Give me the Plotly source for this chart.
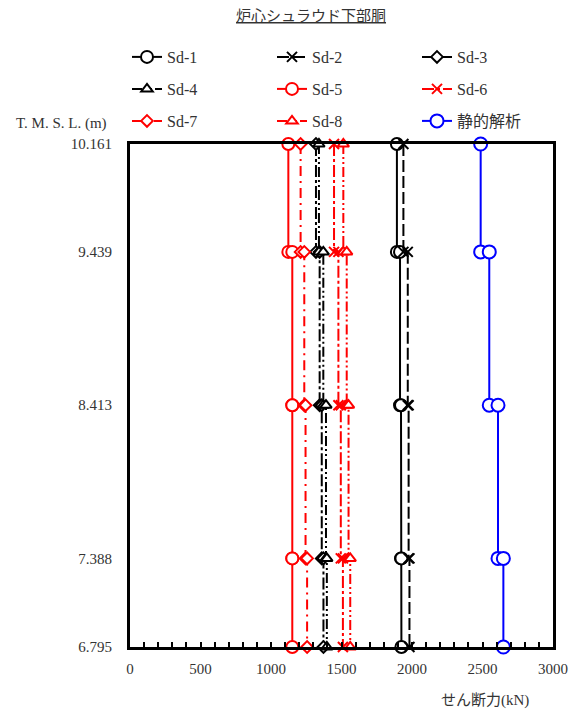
import plotly.graph_objects as go

# Elevation levels (T.M.S.L., m)
levels = [10.161, 9.439, 8.413, 7.388, 6.795]
level_labels = ["10.161", "9.439", "8.413", "7.388", "6.795"]

# Shear force (kN) per segment (top to bottom)
sd1 = [1893, 1915, 1922, 1925]
sd2 = [1939, 1970, 1976, 1982]
sd3 = [1319, 1345, 1360, 1372]
sd4 = [1340, 1371, 1390, 1396]
sd5 = [1123, 1151, 1151, 1151]
sd6 = [1447, 1478, 1495, 1510]
sd7 = [1210, 1236, 1245, 1256]
sd8 = [1513, 1537, 1550, 1562]
static = [2487, 2548, 2610, 2648]

names = ["Sd-1", "Sd-2", "Sd-3", "Sd-4", "Sd-5", "Sd-6", "Sd-7", "Sd-8", "静的解析"]
series = [sd1, sd2, sd3, sd4, sd5, sd6, sd7, sd8, static]

styles = [
    dict(color="black", dash="solid", symbol="circle", size=12),
    dict(color="black", dash="12px,4px", symbol="x-thin-open", size=10),
    dict(color="black", dash="12px,3px,3px,3px", symbol="diamond", size=9),
    dict(color="black", dash="10px,3px,2px,3px,2px,3px", symbol="triangle-up", size=10),
    dict(color="red", dash="solid", symbol="circle", size=12),
    dict(color="red", dash="12px,3px,3px,3px", symbol="x-thin-open", size=10),
    dict(color="red", dash="10px,5px,2px,5px", symbol="diamond", size=9),
    dict(color="red", dash="10px,3px,2px,3px,2px,3px", symbol="triangle-up", size=10),
    dict(color="blue", dash="solid", symbol="circle", size=13),
]

SERIF = "Liberation Serif, Noto Sans CJK JP"
legend_ids = ["legend", "legend2", "legend3"]
row_centers_px = [57, 89, 121]

fig = go.Figure()
for k, (name, seg, st) in enumerate(zip(names, series, styles)):
    xs, ys = [], []
    for i, v in enumerate(seg):
        xs += [v, v]
        ys += [levels[i], levels[i + 1]]
    fill = st["color"] if st["symbol"].startswith("x") else "white"
    fig.add_trace(go.Scatter(
        x=xs, y=ys, name=name, mode="lines+markers", cliponaxis=False,
        legend=legend_ids[k // 3],
        line=dict(color=st["color"], width=2, dash=st["dash"]),
        marker=dict(symbol=st["symbol"], size=st["size"], color=fill,
                    line=dict(color=st["color"], width=2)),
    ))

def legend_cfg(ypx):
    return dict(orientation="h", x=(127 - 130) / 423, xanchor="left",
                y=1 + (144 - ypx) / 503, yanchor="middle",
                entrywidth=100, entrywidthmode="pixels", traceorder="normal",
                font=dict(family=SERIF, size=16, color="#333"),
                bgcolor="rgba(0,0,0,0)")

fig.update_layout(
    width=571, height=714,
    margin=dict(l=130, r=18, t=144, b=67, autoexpand=False),
    plot_bgcolor="white", paper_bgcolor="white",
    font=dict(family=SERIF, size=15, color="#333"),
    showlegend=True,
    legend=legend_cfg(row_centers_px[0]),
    legend2=legend_cfg(row_centers_px[1]),
    legend3=legend_cfg(row_centers_px[2]),
    xaxis=dict(range=[0, 3000], dtick=500, showgrid=False, zeroline=False,
               ticks="inside", ticklen=5, tickwidth=2, tickcolor="black",
               minor=dict(dtick=100, ticks="inside", ticklen=5, tickwidth=2, tickcolor="black"),
               showline=True, linewidth=3, linecolor="black", mirror=True,
               ticklabelstandoff=6,
               tickfont=dict(family=SERIF, size=15, color="#333")),
    yaxis=dict(range=[levels[-1], levels[0]], tickvals=levels, ticktext=level_labels,
               showgrid=False, zeroline=False, ticks="", ticklabelstandoff=12,
               showline=True, linewidth=3, linecolor="black", mirror=True,
               tickfont=dict(family=SERIF, size=15, color="#333")),
    annotations=[
        dict(text="<u>炉心シュラウド下部胴</u>", xref="paper", yref="paper",
             x=(311 - 130) / 423, y=1 + (144 - 16) / 503, xanchor="center", yanchor="middle",
             showarrow=False, font=dict(family=SERIF, size=15, color="#333")),
        dict(text="T. M. S. L. (m)", xref="paper", yref="paper",
             x=(14 - 130) / 423, y=1 + (144 - 124) / 503, xanchor="left", yanchor="middle",
             showarrow=False, font=dict(family=SERIF, size=15, color="#333")),
        dict(text="せん断力(kN)", xref="paper", yref="paper",
             x=(485 - 130) / 423, y=-(700 - 647) / 503, xanchor="center", yanchor="middle",
             showarrow=False, font=dict(family=SERIF, size=15, color="#333")),
    ],
)

fig.write_html("out.html", config={"displayModeBar": False},
               post_script="document.body.style.margin='0';document.body.style.overflow='hidden';")
